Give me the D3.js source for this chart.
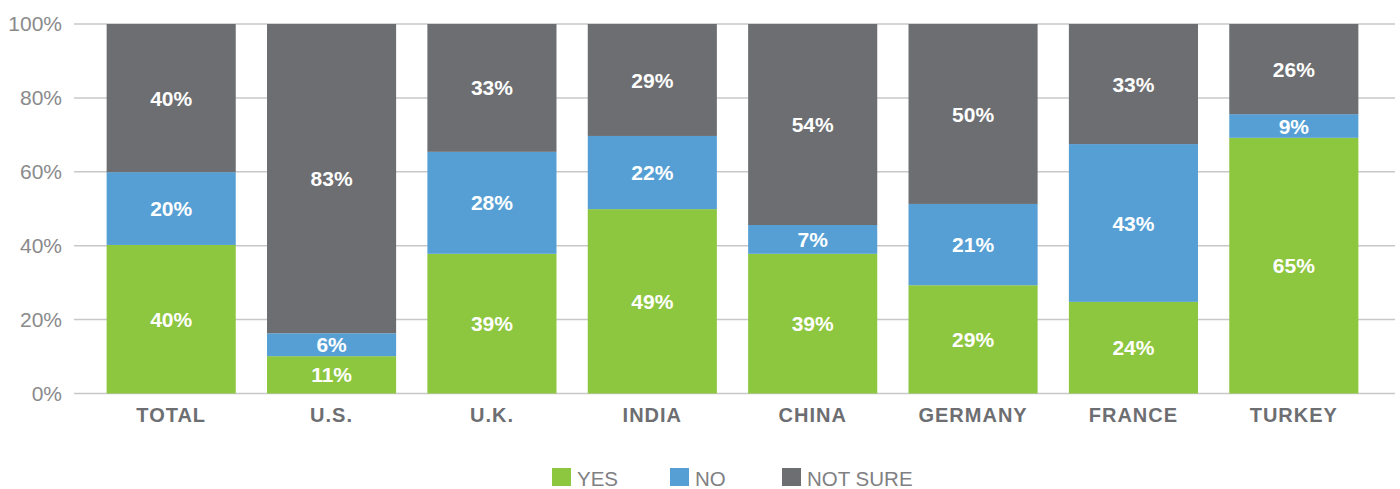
<!DOCTYPE html>
<html>
<head>
<meta charset="utf-8">
<script src="https://cdn.jsdelivr.net/npm/d3@7"></script>
<style>
  body { margin: 0; background: #fff; }
  text { font-family: "Liberation Sans", Arial, sans-serif; }
</style>
</head>
<body>
<div id="chart"></div>
<script>
// categories and series (bar heights, labels as printed)
var countries = ["TOTAL", "U.S.", "U.K.", "INDIA", "CHINA", "GERMANY", "FRANCE", "TURKEY"];
var yesVals = [40.2, 10.1, 37.8, 49.9, 37.8, 29.3, 24.8, 69.2];
var noVals = [19.7, 6.2, 27.6, 19.8, 7.8, 22.0, 42.7, 6.4];
var notSureVals = [40.1, 83.7, 34.6, 30.3, 54.4, 48.7, 32.5, 24.4];
var yesLabels = ["40%", "11%", "39%", "49%", "39%", "29%", "24%", "65%"];
var noLabels = ["20%", "6%", "28%", "22%", "7%", "21%", "43%", "9%"];
var notSureLabels = ["40%", "83%", "33%", "29%", "54%", "50%", "33%", "26%"];
var yTicks = [0, 20, 40, 60, 80, 100];

var seriesKeys = ["yes", "no", "notSure"];
var seriesNames = ["YES", "NO", "NOT SURE"];
var colors = ["#8dc63f", "#569fd5", "#6d6e71"];

var width = 1400, height = 489;

var svg = d3.select("#chart")
  .append("svg")
  .attr("width", width)
  .attr("height", height);

var data = countries.map(function(c, i) {
  return {country: c, yes: yesVals[i], no: noVals[i], notSure: notSureVals[i],
          labels: {yes: yesLabels[i], no: noLabels[i], notSure: notSureLabels[i]}};
});

var x = d3.scaleBand()
  .domain(countries)
  .range([91, 1374])
  .paddingInner(0.195)
  .paddingOuter(0.0975);

var y = d3.scaleLinear()
  .domain([0, 100])
  .range([393.5, 24]);

// gridlines
svg.append("g")
  .selectAll("line")
  .data(yTicks)
  .enter()
  .append("line")
  .attr("x1", 74).attr("x2", 1395)
  .attr("y1", function(d) { return y(d); })
  .attr("y2", function(d) { return y(d); })
  .attr("stroke", "#c8c8c8")
  .attr("stroke-width", 1.5);

// y axis labels
var yAxis = svg.append("g")
  .attr("transform", "translate(62,0)")
  .call(d3.axisLeft(y).tickValues(yTicks).tickSize(0).tickPadding(0).tickFormat(function(d) { return d + "%"; }));
yAxis.select(".domain").remove();
yAxis.selectAll("text")
  .style("font-size", "21px")
  .style("fill", "#8a8a8c")
  .style("font-family", "'Liberation Sans', Arial, sans-serif");

var stacked = d3.stack().keys(seriesKeys)(data);

var layers = svg.selectAll(".layer")
  .data(stacked)
  .enter()
  .append("g")
  .attr("class", "layer")
  .attr("fill", function(d, i) { return colors[i]; });

layers.selectAll("rect")
  .data(function(d) { return d; })
  .enter()
  .append("rect")
  .attr("x", function(d) { return x(d.data.country); })
  .attr("width", x.bandwidth())
  .attr("y", function(d) { return y(d[1]); })
  .attr("height", function(d) { return y(d[0]) - y(d[1]); });

// value labels
stacked.forEach(function(layer) {
  svg.append("g")
    .selectAll("text")
    .data(layer)
    .enter()
    .append("text")
    .attr("x", function(d) { return x(d.data.country) + x.bandwidth() / 2; })
    .attr("y", function(d) { return (y(d[0]) + y(d[1])) / 2; })
    .attr("dy", "0.36em")
    .attr("text-anchor", "middle")
    .style("font-size", "21px")
    .style("font-weight", "bold")
    .style("fill", "#fff")
    .text(function(d) { return d.data.labels[layer.key]; });
});

// x axis labels
var xAxis = svg.append("g")
  .attr("transform", "translate(0,408)")
  .call(d3.axisBottom(x).tickSize(0).tickPadding(0));
xAxis.select(".domain").remove();
xAxis.selectAll("text")
  .attr("dy", "0.71em")
  .style("font-size", "20px")
  .style("letter-spacing", "1px")
  .style("font-weight", "bold")
  .style("fill", "#6d6e71")
  .style("font-family", "'Liberation Sans', Arial, sans-serif");

// legend
var legendX = [552, 670, 782];
var legend = svg.append("g");
seriesNames.forEach(function(name, i) {
  legend.append("rect")
    .attr("x", legendX[i]).attr("y", 468)
    .attr("width", 19).attr("height", 18)
    .attr("fill", colors[i]);
  legend.append("text")
    .attr("x", legendX[i] + 25).attr("y", 486)
    .style("font-size", "20.5px")
    .style("fill", "#808083")
    .text(name);
});
</script>
</body>
</html>
